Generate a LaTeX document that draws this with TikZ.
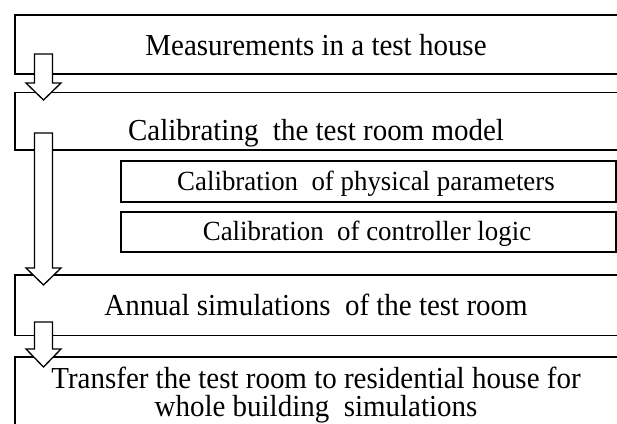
\documentclass[tikz,border=0pt]{standalone}
\usepackage{fontspec}
\setmainfont{Liberation Serif}
\newfontfamily\condserif[FakeStretch=0.95]{Liberation Serif}
\newfontfamily\condserifb[FakeStretch=0.97]{Liberation Serif}
\begin{document}
\begin{tikzpicture}[x=1pt,y=-1pt,
  box/.style={draw, line width=1.3pt, inner sep=0pt, outer sep=0pt, anchor=north west},
  bigtext/.style={anchor=base, inner sep=0pt, font=\condserif\fontsize{30.5}{30.5}\selectfont},
  smalltext/.style={anchor=base, inner sep=0pt, font=\condserifb\fontsize{27.7}{27.7}\selectfont},
  blockarrow/.style={draw, fill=white, line width=1.3pt, line join=miter}]
\useasboundingbox (0,0) rectangle (617,423);
\clip (0,0) rectangle (617,423);
\fill[white] (0,0) rectangle (617,423);
% boxes
\node[box, minimum width=605pt, minimum height=59pt] (b1) at (15,15) {};
\node[box, minimum width=605pt, minimum height=57.5pt] (b2) at (15,92.5) {};
\node[box, minimum width=495pt, minimum height=41pt] (i1) at (121,161) {};
\node[box, minimum width=495pt, minimum height=40pt] (i2) at (121,212) {};
\node[box, minimum width=605pt, minimum height=60.5pt] (b3) at (15,275) {};
\node[box, minimum width=605pt, minimum height=90pt] (b4) at (15,357) {};
% texts
\node[bigtext] (t1) at (316,55) {Measurements in a test house};
\node[bigtext] (t2) at (316,140) {Calibrating\ \ the test room model};
\node[smalltext] (t3) at (366,190) {Calibration\ \ of physical parameters};
\node[smalltext] (t4) at (367,240) {Calibration\ \ of controller logic};
\node[bigtext] (t5) at (316,315) {Annual simulations\ \ of the test room};
\node[bigtext] (t6) at (316,388) {Transfer the test room to residential house for};
\node[bigtext] (t7) at (316,416) {whole building\ \ simulations};
% block arrows
\draw[blockarrow] (34.5,54) -- (52.5,54) -- (52.5,83) -- (61,83) -- (43.5,100) -- (26,83) -- (34.5,83) -- cycle;
\draw[blockarrow] (34.5,133) -- (52.5,133) -- (52.5,268) -- (61,268) -- (43.5,285) -- (26,268) -- (34.5,268) -- cycle;
\draw[blockarrow] (34.5,322) -- (52.5,322) -- (52.5,349) -- (61,349) -- (43.5,367) -- (26,349) -- (34.5,349) -- cycle;
\end{tikzpicture}
\end{document}
